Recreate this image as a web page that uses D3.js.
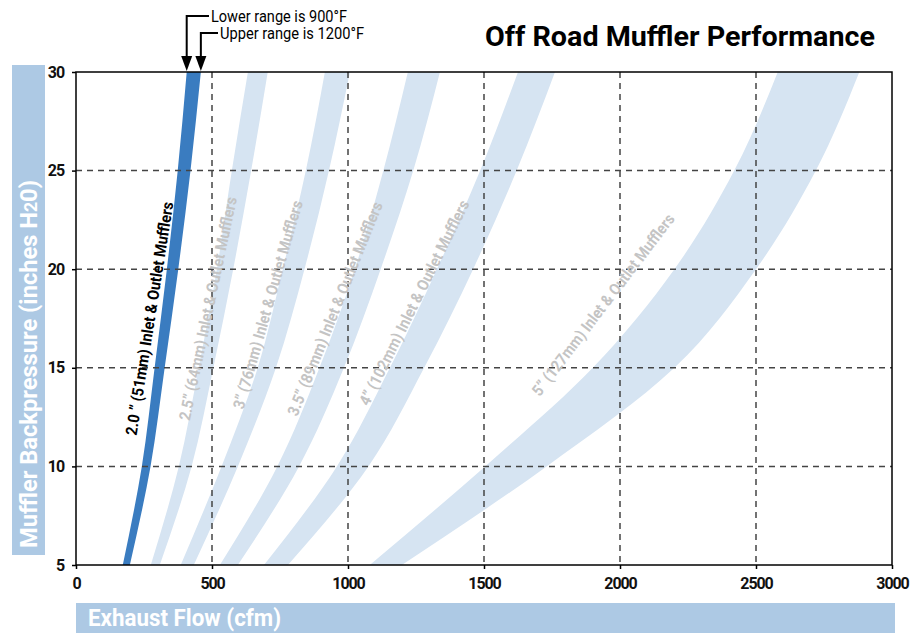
<!DOCTYPE html>
<html>
<head>
<meta charset="utf-8">
<script src="https://cdn.jsdelivr.net/npm/d3@7"></script>
<style>
  body { margin: 0; background: #fff; }
  svg text { font-family: Roboto, "DejaVu Sans Condensed", sans-serif; }
</style>
</head>
<body>
<script>
// Backpressure levels (inches H2O) at which the band edges were read
const pressure = [5, 10, 15, 20, 25, 30];

// Exhaust flow (cfm) on the 900°F edge and on the 1200°F edge of each band
const flow20Lower = [172, 242, 289, 334, 374, 407];
const flow20Upper = [198, 274, 326, 376, 421, 459];
const flow25Lower = [275, 378, 451, 518, 573, 632];
const flow25Upper = [308, 425, 505, 578, 644, 705];
const flow30Lower = [385, 535, 668, 760, 845, 915];
const flow30Upper = [433, 595, 735, 840, 930, 1007];
const flow35Lower = [529, 740, 895, 1025, 1130, 1220];
const flow35Upper = [595, 820, 985, 1120, 1240, 1338];
const flow40Lower = [691, 959, 1154, 1327, 1486, 1625];
const flow40Upper = [779, 1075, 1280, 1460, 1620, 1761];
const flow50Lower = [1080, 1504, 1900, 2200, 2420, 2580];
const flow50Upper = [1198, 1730, 2200, 2500, 2720, 2880];

const bandNames = [
  '2.0 ” (51mm) Inlet & Outlet Mufflers',
  '2.5” (64mm) Inlet & Outlet Mufflers',
  '3” (76mm) Inlet & Outlet Mufflers',
  '3.5” (89mm) Inlet & Outlet Mufflers',
  '4” (102mm) Inlet & Outlet Mufflers',
  '5” (127mm) Inlet & Outlet Mufflers'
];

const xTicks = [0, 500, 1000, 1500, 2000, 2500, 3000];
const yTicks = [5, 10, 15, 20, 25, 30];

const bands = [
  [flow20Lower, flow20Upper],
  [flow25Lower, flow25Upper],
  [flow30Lower, flow30Upper],
  [flow35Lower, flow35Upper],
  [flow40Lower, flow40Upper],
  [flow50Lower, flow50Upper]
].map((b, i) => ({
  name: bandNames[i],
  pts: pressure.map((p, j) => ({ p: p, lo: b[0][j], hi: b[1][j] }))
}));

// where each label sits (cfm, inches), its slope and its length
const labelSpots = [
  { q: 270, p: 17.5, angle: -81, len: 236 },
  { q: 485, p: 18.0, angle: -78, len: 228 },
  { q: 705, p: 18.2, angle: -74, len: 216 },
  { q: 952, p: 18.0, angle: -68, len: 229 },
  { q: 1243, p: 18.3, angle: -63.5, len: 227 },
  { q: 1938, p: 18.2, angle: -52.7, len: 224 }
];

const W = 912, H = 633;
const margin = { top: 72, right: 20, bottom: 68, left: 76 };
const width = 816, height = 493;

const svg = d3.select('body').append('svg')
  .attr('width', W)
  .attr('height', H);

const g = svg.append('g')
  .attr('transform', `translate(${margin.left}, ${margin.top})`);

const x = d3.scaleLinear().domain([0, 3000]).range([0, width]);
const y = d3.scaleLinear().domain([5, 30]).range([height, 0]);

// bandes
const area = d3.area()
  .y(d => y(d.p))
  .x0(d => x(d.lo))
  .x1(d => x(d.hi))
  .curve(d3.curveMonotoneY);

g.selectAll('path.band')
  .data(bands)
  .join('path')
  .attr('class', 'band')
  .attr('d', d => area(d.pts))
  .attr('fill', (d, i) => i === 0 ? '#3a7cc0' : '#d6e4f2');

// grille pointillée
g.selectAll('line.vgrid')
  .data(xTicks.slice(1, -1))
  .join('line')
  .attr('x1', d => x(d)).attr('x2', d => x(d))
  .attr('y1', 0).attr('y2', height)
  .attr('stroke', '#444')
  .attr('stroke-width', 1.5)
  .attr('stroke-dasharray', '6,5');

g.selectAll('line.hgrid')
  .data(yTicks.slice(1, -1))
  .join('line')
  .attr('x1', 0).attr('x2', width)
  .attr('y1', d => y(d)).attr('y2', d => y(d))
  .attr('stroke', '#444')
  .attr('stroke-width', 1.5)
  .attr('stroke-dasharray', '6,5');

// cadre
g.append('rect')
  .attr('width', width)
  .attr('height', height)
  .attr('fill', 'none')
  .attr('stroke', '#000')
  .attr('stroke-width', 1.5);

// axes
const xAxis = g.append('g')
  .attr('transform', `translate(0, ${height})`)
  .call(d3.axisBottom(x).tickValues(xTicks).tickSize(4).tickPadding(9).tickFormat(d3.format('d')));

const yAxis = g.append('g')
  .call(d3.axisLeft(y).tickValues(yTicks).tickSize(4).tickPadding(8));

[xAxis, yAxis].forEach(a => {
  a.select('.domain').remove();
  a.selectAll('.tick line').attr('stroke', '#000').attr('stroke-width', 1.5);
  a.selectAll('text')
    .attr('font-family', 'Roboto, sans-serif')
    .attr('font-size', 16)
    .attr('font-weight', 'bold')
    .attr('letter-spacing', -1.1)
    .attr('fill', '#111');
});

// étiquettes des bandes
g.selectAll('text.bandlabel')
  .data(bands)
  .join('text')
  .attr('class', 'bandlabel')
  .attr('transform', (d, i) => `translate(${x(labelSpots[i].q)}, ${y(labelSpots[i].p)}) rotate(${labelSpots[i].angle})`)
  .attr('text-anchor', 'middle')
  .attr('dy', '0.35em')
  .attr('font-size', 16)
  .attr('font-weight', 'bold')
  .attr('textLength', (d, i) => labelSpots[i].len)
  .attr('lengthAdjust', 'spacingAndGlyphs')
  .attr('fill', (d, i) => i === 0 ? '#000' : '#c4c4c4')
  .text(d => d.name);

// titre
svg.append('text')
  .attr('x', 485)
  .attr('y', 46)
  .attr('font-size', 28)
  .attr('font-weight', 'bold')
  .attr('textLength', 390)
  .attr('lengthAdjust', 'spacingAndGlyphs')
  .attr('fill', '#000')
  .text('Off Road Muffler Performance');

// titres des axes
svg.append('rect')
  .attr('x', 12).attr('y', 65)
  .attr('width', 33).attr('height', 490)
  .attr('fill', '#adc9e4');

const yLabel = svg.append('text')
  .attr('transform', 'translate(37, 548) rotate(-90)')
  .attr('font-size', 24)
  .attr('font-weight', 'bold')
  .attr('textLength', 368)
  .attr('lengthAdjust', 'spacingAndGlyphs')
  .attr('fill', '#fff');
yLabel.append('tspan').text('Muffler Backpressure (inches H');
yLabel.append('tspan').attr('font-size', 18).text('2');
yLabel.append('tspan').text('0)');

svg.append('rect')
  .attr('x', 76).attr('y', 603)
  .attr('width', 819).attr('height', 30)
  .attr('fill', '#adc9e4');

svg.append('text')
  .attr('x', 88)
  .attr('y', 626)
  .attr('font-size', 23)
  .attr('font-weight', 'bold')
  .attr('textLength', 193)
  .attr('lengthAdjust', 'spacingAndGlyphs')
  .attr('fill', '#fff')
  .text('Exhaust Flow (cfm)');

// flèches des températures
const arrows = [
  { q: flow20Lower[flow20Lower.length - 1], yy: 16, text: 'Lower range is 900°F', tx: 209, len: 136 },
  { q: flow20Upper[flow20Upper.length - 1], yy: 33, text: 'Upper range is 1200°F', tx: 218, len: 144 }
];

arrows.forEach(a => {
  const ax = margin.left + x(a.q);
  svg.append('path')
    .attr('d', `M${a.tx},${a.yy} H${ax} V${margin.top - 14}`)
    .attr('fill', 'none')
    .attr('stroke', '#000')
    .attr('stroke-width', 2);
  svg.append('path')
    .attr('d', `M${ax - 5.5},${margin.top - 16} L${ax + 5.5},${margin.top - 16} L${ax},${margin.top - 1} Z`)
    .attr('fill', '#000');
  svg.append('text')
    .attr('x', a.tx + 2)
    .attr('y', a.yy + 6)
    .attr('font-size', 16)
    .attr('textLength', a.len)
    .attr('lengthAdjust', 'spacingAndGlyphs')
    .attr('fill', '#000')
    .text(a.text);
});
</script>
</body>
</html>
